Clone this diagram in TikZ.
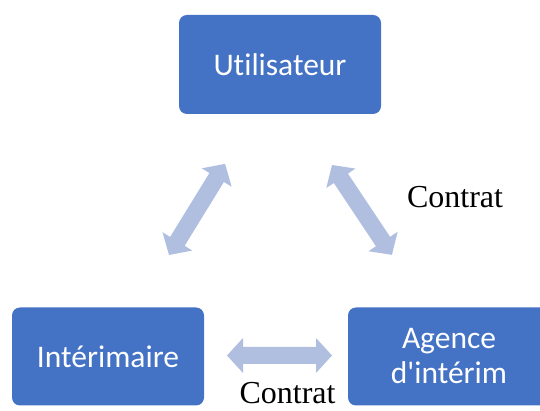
\documentclass[tikz,border=0pt]{standalone}
\usepackage{fontspec}
\setmainfont{Liberation Serif}
\newfontfamily\boxfont[Ligatures=NoCommon]{Carlito}
\definecolor{boxblue}{HTML}{4472C4}
\definecolor{arrowblue}{HTML}{B0BEE0}
\newcommand\dblarr[3]{%
  \fill[arrowblue,shift={(#1)},rotate=#2]
    (0,0) -- (16,17.5) -- (16,8.5) -- ({#3-16},8.5) -- ({#3-16},17.5) -- (#3,0)
    -- ({#3-16},-17.5) -- ({#3-16},-8.5) -- (16,-8.5) -- (16,-17.5) -- cycle;}
\begin{document}
\begin{tikzpicture}[x=1pt,y=1pt,
  entity/.style={fill=boxblue,rounded corners=8pt,text=white,align=center,
    font=\boxfont\fontsize{31.5}{35}\selectfont,inner sep=0pt},
  lbl/.style={font=\fontsize{32}{36}\selectfont,text=black,anchor=base,inner sep=0pt}]
\useasboundingbox (0,0) rectangle (540,411);
\node[entity,minimum width=202pt,minimum height=99pt] (util) at (280,346.5) {Utilisateur};
\node[entity,minimum width=192pt,minimum height=98pt] (inter) at (108,54.5) {Intérimaire};
\node[entity,minimum width=202pt,minimum height=98pt] (agence) at (449,54.5) {Agence\\d'intérim};
\coordinate (ltip) at (169,156);
\coordinate (rtip) at (332,246);
\coordinate (htip) at (227,55.5);
\dblarr{ltip}{58.4}{107}
\dblarr{rtip}{-56.3}{108}
\dblarr{htip}{0}{105}
\node[lbl] (c1) at (455,203) {Contrat};
\node[lbl] (c2) at (287.5,7) {Contrat};
\end{tikzpicture}
\end{document}
